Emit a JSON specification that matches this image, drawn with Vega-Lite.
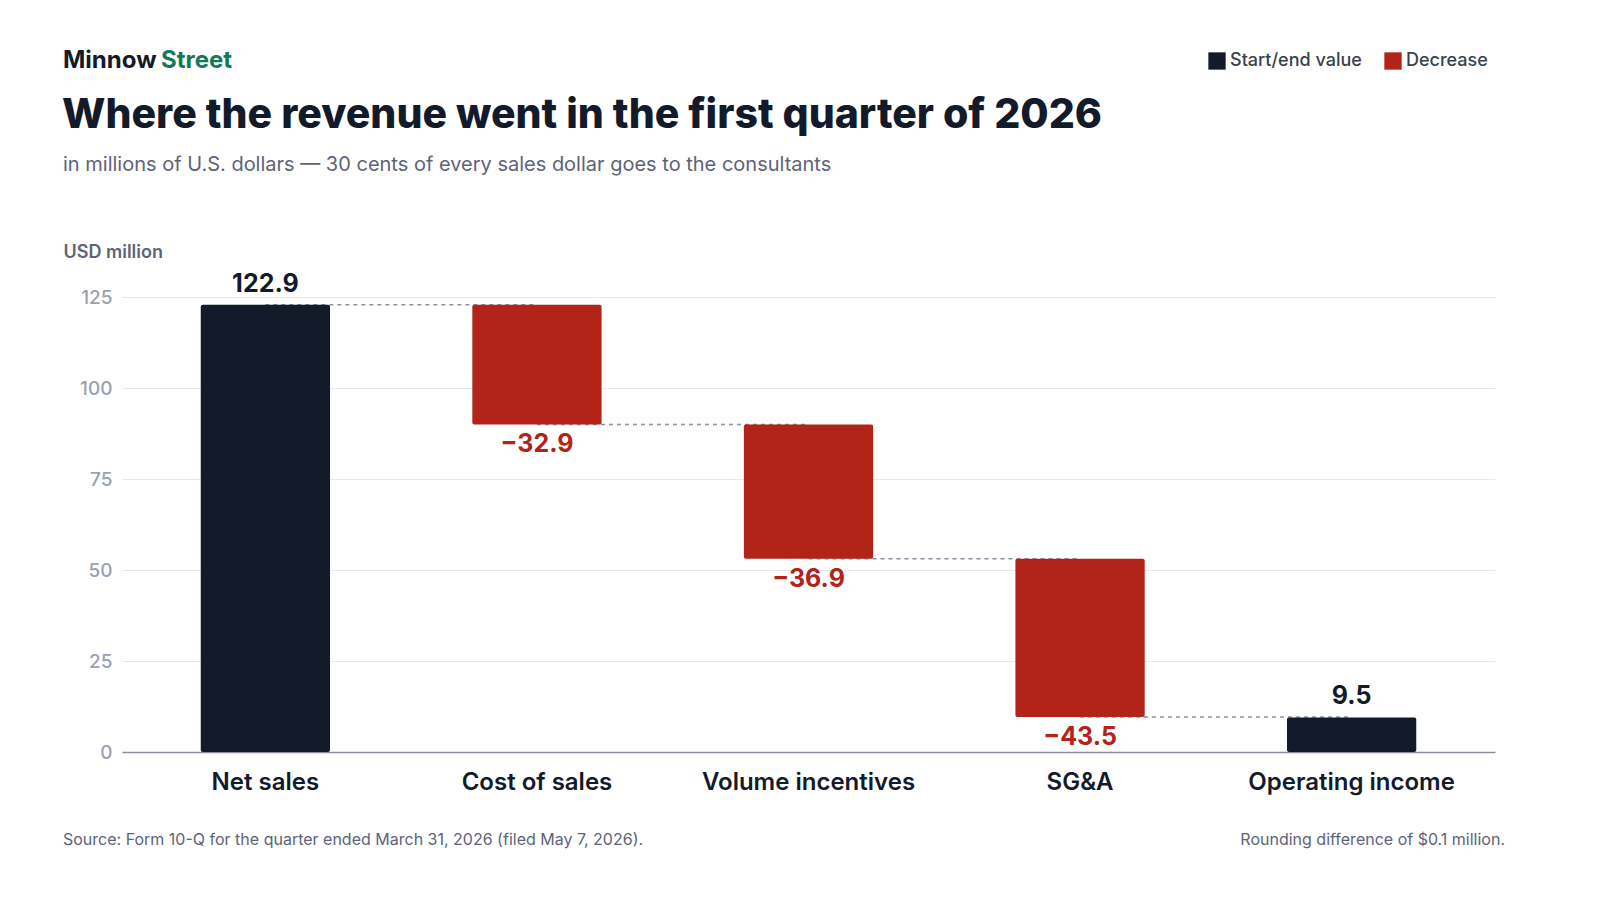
{
  "$schema": "https://vega.github.io/schema/vega-lite/v6.json",
  "autosize": {"type": "none"},
  "width": 1373,
  "height": 455,
  "padding": {"left": 122, "top": 297, "right": 105, "bottom": 148},
  "background": "#FFFFFF",
  "view": {"stroke": null},
  "config": {"font": "Inter"},
  "datasets": {
    "steps": [
      {"cat": "Net sales", "lo": 0, "hi": 122.9, "kind": "Start/end value", "label": "122.9", "next": "Cost of sales", "link": 122.9},
      {"cat": "Cost of sales", "lo": 90.0, "hi": 122.9, "kind": "Decrease", "label": "−32.9", "next": "Volume incentives", "link": 90.0},
      {"cat": "Volume incentives", "lo": 53.1, "hi": 90.0, "kind": "Decrease", "label": "−36.9", "next": "SG&A", "link": 53.1},
      {"cat": "SG&A", "lo": 9.6, "hi": 53.1, "kind": "Decrease", "label": "−43.5", "next": "Operating income", "link": 9.6},
      {"cat": "Operating income", "lo": 0, "hi": 9.5, "kind": "Start/end value", "label": "9.5", "next": null, "link": null}
    ],
    "one": [{"a": 1}]
  },
  "layer": [
    {
      "data": {"name": "steps"},
      "transform": [{"filter": "datum.next != null"}],
      "mark": {"type": "rule", "strokeDash": [4, 4], "color": "#8a90a0", "strokeWidth": 1.5},
      "encoding": {
        "x": {"field": "cat", "type": "nominal", "sort": null},
        "x2": {"field": "next"},
        "y": {"field": "link", "type": "quantitative"}
      }
    },
    {
      "data": {"name": "steps"},
      "mark": {"type": "bar", "cornerRadius": 2},
      "encoding": {
        "x": {
          "field": "cat", "type": "nominal", "sort": null,
          "scale": {"paddingInner": 0.524, "paddingOuter": 0.29},
          "axis": {
            "title": null, "labelAngle": 0, "labelFontSize": 24, "labelFontWeight": 600,
            "labelColor": "#131a2a", "labelPadding": 30, "ticks": false, "labelLimit": 400,
            "labelAlign": "center",
            "domainColor": "#8a90a0", "domainWidth": 1.5
          }
        },
        "y": {
          "field": "hi", "type": "quantitative",
          "scale": {"domain": [0, 125], "nice": false},
          "axis": {
            "values": [0, 25, 50, 75, 100, 125], "ticks": false, "domain": false,
            "gridColor": "#e6e8ec", "labelColor": "#9aa1b0", "labelFontSize": 19,
            "labelFontWeight": 500, "labelPadding": 10,
            "title": "USD million", "titleAngle": 0, "titleAlign": "left",
            "titleBaseline": "bottom", "titleX": -59, "titleY": -36,
            "titleFontSize": 18, "titleFontWeight": 600, "titleColor": "#5d6478"
          }
        },
        "y2": {"field": "lo"},
        "color": {
          "field": "kind", "type": "nominal",
          "scale": {"domain": ["Start/end value", "Decrease"], "range": ["#131a2a", "#b22318"]},
          "legend": {
            "orient": "none", "legendX": 1086, "legendY": -245, "direction": "horizontal",
            "title": null, "symbolType": "square", "symbolSize": 300, "symbolStrokeWidth": 0,
            "labelFontSize": 18, "labelFontWeight": 500, "labelColor": "#3a4150", "columnPadding": 22
          }
        }
      }
    },
    {
      "data": {"name": "steps"},
      "transform": [{"filter": "datum.kind == 'Start/end value'"}],
      "mark": {"type": "text", "baseline": "bottom", "dy": -8, "fontSize": 25, "fontWeight": 700, "color": "#131a2a"},
      "encoding": {
        "x": {"field": "cat", "type": "nominal", "sort": null},
        "y": {"field": "hi", "type": "quantitative"},
        "text": {"field": "label"}
      }
    },
    {
      "data": {"name": "steps"},
      "transform": [{"filter": "datum.kind == 'Decrease'"}],
      "mark": {"type": "text", "baseline": "top", "dy": 8, "fontSize": 25, "fontWeight": 700, "color": "#b22318"},
      "encoding": {
        "x": {"field": "cat", "type": "nominal", "sort": null},
        "y": {"field": "lo", "type": "quantitative"},
        "text": {"field": "label"}
      }
    },
    {
      "data": {"name": "one"},
      "mark": {"type": "text", "text": "Minnow", "x": -59, "y": -236, "align": "left", "baseline": "middle", "fontSize": 24, "fontWeight": 700, "color": "#131a2a"},
      "encoding": {}
    },
    {
      "data": {"name": "one"},
      "mark": {"type": "text", "text": "Street", "x": 39, "y": -236, "align": "left", "baseline": "middle", "fontSize": 24, "fontWeight": 700, "color": "#137a55"},
      "encoding": {}
    },
    {
      "data": {"name": "one"},
      "mark": {"type": "text", "text": "Where the revenue went in the first quarter of 2026", "x": -60, "y": -181, "align": "left", "baseline": "middle", "fontSize": 41, "fontWeight": 800, "color": "#131a2a"},
      "encoding": {}
    },
    {
      "data": {"name": "one"},
      "mark": {"type": "text", "text": "in millions of U.S. dollars — 30 cents of every sales dollar goes to the consultants", "x": -59, "y": -132, "align": "left", "baseline": "middle", "fontSize": 20, "color": "#5d6478"},
      "encoding": {}
    },
    {
      "data": {"name": "one"},
      "mark": {"type": "text", "text": "Source: Form 10-Q for the quarter ended March 31, 2026 (filed May 7, 2026).", "x": -59, "y": 543, "align": "left", "baseline": "middle", "fontSize": 16, "color": "#5d6478"},
      "encoding": {}
    },
    {
      "data": {"name": "one"},
      "mark": {"type": "text", "text": "Rounding difference of $0.1 million.", "x": 1383, "y": 543, "align": "right", "baseline": "middle", "fontSize": 16, "color": "#5d6478"},
      "encoding": {}
    }
  ]
}
